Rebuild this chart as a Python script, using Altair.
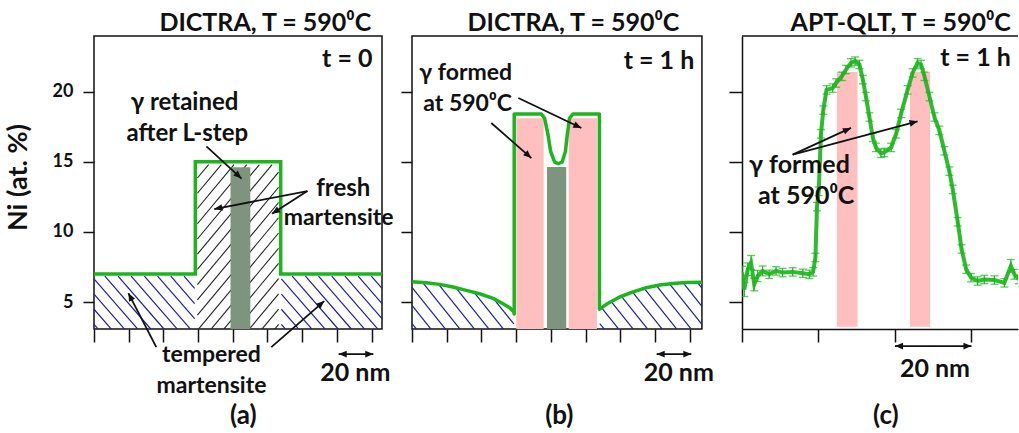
import math
import altair as alt
import numpy as np
import pandas as pd

FONT = "Lato"
GREEN = "#1db51d"
PINK = "#ffbfbf"
GRAY = "#7d957d"
BLUE = "#1e1eaa"
BLACK = "#111111"

# ---------------- data ----------------
Y_DOMAIN = [3.08, 23.96]
H = 293
TICKS_Y = [5, 10, 15, 20]

# panel (a): DICTRA t = 0
A_W, A_XMAX = 288, 166.0
A_TICKS = [0, 20, 40, 60, 80, 100, 120, 140, 160]
A_LINE_X = [0.0, 58.4, 58.4, 107.6, 107.6, 166.0]
A_LINE_Y = [7.0, 7.0, 15.0, 15.0, 7.0, 7.0]
A_GRAY = [78.7, 90.1, 14.6]          # x0, x1, top
A_FRESH = [59.6, 106.4, 14.8]        # fresh martensite region x0, x1, top
A_TEMP_L = [0.0, 58.0, 6.85]         # tempered martensite region (left)
A_TEMP_R = [108.0, 166.0, 6.85]      # tempered martensite region (right)

# panel (b): DICTRA t = 1 h
B_W, B_XMAX, B_FRAME = 300, 172.9, 167.1
B_LINE_X = [0.0, 8.2, 15.9, 23.6, 31.3, 39.0, 46.7, 52.5, 56.3, 58.6, 58.9, 58.9,
            74.5, 76.4, 78.4, 79.9, 82.2, 84.2, 86.5, 88.4, 89.5, 90.8, 92.8, 108.0,
            108.0, 112.0, 119.7, 127.4, 135.0, 142.7, 150.4, 158.1, 167.1]
B_LINE_Y = [6.44, 6.37, 6.26, 6.07, 5.83, 5.59, 5.26, 4.88, 4.59, 4.31, 4.15, 18.41,
            18.41, 18.10, 16.92, 15.73, 14.97, 14.86, 14.97, 15.73, 16.92, 18.10, 18.41, 18.41,
            4.48, 4.84, 5.36, 5.73, 6.02, 6.21, 6.33, 6.40, 6.42]
B_PINK_X0 = [60.1, 90.3]
B_PINK_X1 = [75.9, 106.6]
B_PINK_TOP = 18.1
B_GRAY = [77.8, 88.9, 14.62]

# panel (c): APT-QLT t = 1 h
C_W, C_XMAX = 276, 72.16
C_TICKS = [0, 20, 40, 60]
C_X = [0.0, 0.6, 1.5, 2.35, 3.2, 4.1, 5.4, 7.1, 8.9, 10.6,
       13.25, 15.9, 17.6, 18.6, 19.2, 19.6, 20.05, 20.65, 21.25, 22.1,
       23.7, 24.6, 26.1, 27.2, 28.5, 29.6, 30.7, 31.6, 32.4, 33.3,
       34.2, 35.0, 36.3, 37.2, 39.0, 40.3, 41.6, 43.3, 44.6, 45.9,
       46.8, 47.7, 49.0, 50.3, 51.6, 52.9, 54.2, 55.1, 56.4, 57.4,
       58.6, 59.9, 61.6, 63.35, 66.0, 68.6, 70.3, 71.2, 72.4]
C_Y = [7.10, 5.89, 7.34, 7.82, 6.25, 6.86, 7.22, 6.98, 7.22, 7.10,
       7.15, 7.05, 6.98, 7.15, 8.18, 11.80, 12.89, 16.99, 18.68, 20.12,
       20.25, 20.61, 21.09, 21.57, 22.05, 22.17, 21.93, 20.85, 19.64, 18.19,
       16.74, 16.02, 15.60, 15.66, 16.02, 16.99, 18.44, 20.12, 21.33, 22.05,
       21.93, 21.09, 19.64, 18.19, 17.23, 15.78, 14.33, 13.03, 10.72, 8.78,
       7.34, 6.74, 6.50, 6.61, 6.57, 6.37, 7.58, 6.98, 6.61]
C_ERR = [0.45, 0.5, 0.45, 0.5, 0.45, 0.4, 0.35, 0.3, 0.3, 0.3,
         0.3, 0.3, 0.3, 0.3, 0.3, 0.3, 0.3, 0.3, 0.3, 0.3,
         0.3, 0.3, 0.3, 0.3, 0.3, 0.3, 0.3, 0.3, 0.3, 0.3,
         0.3, 0.3, 0.3, 0.3, 0.3, 0.3, 0.3, 0.3, 0.3, 0.3,
         0.3, 0.3, 0.3, 0.3, 0.3, 0.3, 0.3, 0.3, 0.3, 0.3,
         0.3, 0.3, 0.3, 0.3, 0.3, 0.3, 0.45, 0.35, 0.3]
C_PINK_X0 = [24.8, 43.9]
C_PINK_X1 = [30.2, 49.2]
C_PINK_TOP, C_PINK_BOT = 21.4, 3.24

# annotations: text, x, y, font size, align
A_TEXT = ["DICTRA, T = 590\u2070C", "t = 0", "\u03b3 retained", "after L-step", "fresh", "martensite",
          "tempered", "martensite", "20 nm", "(a)"]
A_TX = [159.8, 160.5, 52.2, 53.8, 143.7, 141.0, 67.7, 67.7, 150.6, 86.1]
A_TY = [24.89, 22.32, 19.15, 17.0, 13.05, 11.0, 1.22, -0.99, -0.06, -3.13]
A_TS = [25, 25, 24, 24, 24, 23, 23, 23, 25, 26]
A_TA = ["right", "right", "center", "center", "center", "center", "center", "center", "center", "center"]
A_ARROWS = [[64.8, 16.1, 85.0, 13.8], [123.0, 12.91, 69.3, 11.63], [123.0, 12.91, 102.6, 11.29],
            [35.9, 1.79, 19.8, 5.64], [102.2, 1.79, 132.7, 5.07]]
A_BAR = [141.0, 161.0, 1.29]

B_TEXT = ["DICTRA, T = 590\u2070C", "t = 1 h", "\u03b3 formed", "at 590\u2070C", "20 nm", "(b)"]
B_TX = [154.1, 162.7, 4.2, 6.5, 153.8, 84.9]
B_TY = [24.89, 22.18, 21.32, 19.11, -0.06, -3.13]
B_TS = [25, 25, 23, 23, 25, 26]
B_TA = ["right", "right", "left", "left", "center", "center"]
B_ARROWS = [[61.3, 19.54, 97.6, 17.40], [45.7, 17.76, 68.8, 15.26]]
B_BAR = [141.0, 161.0, 1.29]

C_TEXT = ["APT-QLT, T = 590\u2070C", "t = 1 h", "\u03b3 formed", "at 590\u2070C", "20 nm", "(c)"]
C_TX = [70.3, 70.3, 1.83, 4.18, 50.45, 37.6]
C_TY = [24.89, 22.39, 14.76, 12.55, 0.22, -3.13]
C_TS = [25, 25, 25, 25, 25, 26]
C_TA = ["right", "right", "left", "left", "center", "center"]
C_ARROWS = [[13.25, 15.51, 28.5, 17.41], [13.25, 15.51, 45.9, 17.88]]
C_BAR = [40.0, 60.0, 1.86]

KY = H / (Y_DOMAIN[1] - Y_DOMAIN[0])
KX_AB = A_W / A_XMAX
KX_C = C_W / C_XMAX

ARROW_PATH = "M0,0L0.42,1L-0.42,1Z"

PANELS = {
    "a": {"xmax": A_XMAX, "ticks": A_TICKS, "xdomain": False},
    "b": {"xmax": B_XMAX, "ticks": A_TICKS, "xdomain": False},
    "c": {"xmax": C_XMAX, "ticks": C_TICKS, "xdomain": True},
}


# ---------------- helpers ----------------
def xe(field, kind):
    p = PANELS[kind]
    ax = alt.Axis(values=p["ticks"], labels=False, tickSize=13, tickWidth=1.5, tickColor=BLACK,
                  domain=p["xdomain"], domainColor=BLACK, domainWidth=1.5, grid=False, title=None)
    return alt.X(field, type="quantitative",
                 scale=alt.Scale(domain=[0, p["xmax"]], nice=False, zero=False), axis=ax)


def ye(field, kind):
    if kind == "a":
        ax = alt.Axis(values=TICKS_Y, labelFont=FONT, labelFontSize=18, labelFontWeight="bold",
                      labelColor=BLACK, labelPadding=10, tickSize=11, tickWidth=1.5, tickColor=BLACK,
                      domain=False, grid=False, title="Ni (at. %)", titleFont=FONT, titleFontSize=27,
                      titleFontWeight="bold", titleColor=BLACK, titlePadding=20, titleY=141)
    elif kind == "b":
        ax = alt.Axis(values=TICKS_Y, labels=False, tickSize=11, tickWidth=1.5, tickColor=BLACK,
                      domain=False, grid=False, title=None)
    else:
        ax = alt.Axis(values=TICKS_Y, labels=False, tickSize=13, tickWidth=1.5, tickColor=BLACK,
                      domain=True, domainColor=BLACK, domainWidth=1.5, grid=False, title=None)
    return alt.Y(field, type="quantitative", scale=alt.Scale(domain=Y_DOMAIN, nice=False, zero=False),
                 axis=ax)


def hatch_segments(xa, xb, top_x, top_y, bottom, kind, spacing_px, slope, kx):
    xs = np.linspace(xa, xb, 900)
    tops = np.interp(xs, top_x, top_y)
    X = xs * kx
    Yt = tops * KY
    Yb = bottom * KY
    s = -slope if kind == "back" else slope
    cstep = spacing_px * slope
    cmin = np.min(Yb - s * X)
    cmax = np.max(Yt - s * X)
    rows = []
    for c in np.arange(cmin + cstep * 0.3, cmax, cstep):
        Yl = s * X + c
        idx = np.where((Yl >= Yb) & (Yl <= Yt))[0]
        if len(idx) < 2:
            continue
        i0, i1 = idx[0], idx[-1]
        rows.append({"x": xs[i0], "y": Yl[i0] / KY, "x2": xs[i1], "y2": Yl[i1] / KY})
    return rows


def arrow_layers(arrows, kx, kind, double=False):
    shafts, heads = [], []
    for x1, y1, x2, y2 in arrows:
        shafts.append({"x": x1, "y": y1, "x2": x2, "y2": y2})
        ends = [(x1, y1, x2, y2)]
        if double:
            ends.append((x2, y2, x1, y1))
        for a1, b1, a2, b2 in ends:
            dxp = (a2 - a1) * kx
            dyp = -(b2 - b1) * KY
            ang = math.degrees(math.atan2(dxp, -dyp)) % 360
            heads.append({"x": a2, "y": b2, "ang": ang})
    sh = alt.Chart(pd.DataFrame(shafts)).mark_rule(color=BLACK, strokeWidth=1.8).encode(
        x=xe("x", kind), y=ye("y", kind), x2="x2", y2="y2")
    hd = alt.Chart(pd.DataFrame(heads)).mark_point(
        shape=ARROW_PATH, filled=True, color=BLACK, opacity=1, size=260, strokeWidth=0).encode(
        x=xe("x", kind), y=ye("y", kind), angle=alt.Angle("ang:Q", scale=None))
    return [sh, hd]


def text_layers(texts, xs, ys, sizes, aligns, kind):
    df = pd.DataFrame({"t": texts, "x": xs, "y": ys, "fs": sizes, "al": aligns})
    out = []
    for al in ["left", "center", "right"]:
        sub = df[df["al"] == al]
        if len(sub) == 0:
            continue
        out.append(alt.Chart(sub).mark_text(align=al, baseline="middle", font=FONT, fontWeight="bold",
                                            color=BLACK).encode(
            x=xe("x", kind), y=ye("y", kind), text="t:N", size=alt.Size("fs:Q", scale=None)))
    return out


def rect_layer(x0s, x1s, tops, bots, color, kind):
    df = pd.DataFrame({"x": x0s, "x2": x1s, "y": bots, "y2": tops})
    return alt.Chart(df).mark_rect(color=color, opacity=1).encode(
        x=xe("x", kind), x2="x2", y=ye("y", kind), y2="y2")


def frame_layer(xmax, kind):
    df = pd.DataFrame({"x": [0.0], "x2": [xmax], "y": [Y_DOMAIN[0]], "y2": [Y_DOMAIN[1]]})
    return alt.Chart(df).mark_rect(filled=False, stroke=BLACK, strokeWidth=1.5).encode(
        x=xe("x", kind), x2="x2", y=ye("y", kind), y2="y2")


def seg_layer(rows, color, width, kind):
    return alt.Chart(pd.DataFrame(rows)).mark_rule(color=color, strokeWidth=width).encode(
        x=xe("x", kind), y=ye("y", kind), x2="x2", y2="y2")


BOT = Y_DOMAIN[0]

# ---------------- panel (a) ----------------
a_layers = [frame_layer(A_XMAX, "a")]
hb = []
for reg in [A_TEMP_L, A_TEMP_R]:
    hb += hatch_segments(reg[0], reg[1], [reg[0], reg[1]], [reg[2], reg[2]], BOT, "back", 13.2, 1.15, KX_AB)
a_layers.append(seg_layer(hb, BLUE, 1.2, "a"))
hf = hatch_segments(A_FRESH[0], A_FRESH[1], [A_FRESH[0], A_FRESH[1]], [A_FRESH[2], A_FRESH[2]], BOT,
                    "fwd", 12.7, 1.2, KX_AB)
a_layers.append(seg_layer(hf, "#222222", 1.1, "a"))
a_layers.append(rect_layer([A_GRAY[0]], [A_GRAY[1]], [A_GRAY[2]], [BOT], GRAY, "a"))
a_layers.append(alt.Chart(pd.DataFrame({"x": A_LINE_X, "y": A_LINE_Y, "o": list(range(len(A_LINE_X)))}))
                .mark_line(color=GREEN, strokeWidth=3.5, strokeJoin="miter").encode(
    x=xe("x", "a"), y=ye("y", "a"), order="o:Q"))
a_layers += arrow_layers(A_ARROWS, KX_AB, "a")
a_layers += arrow_layers([[A_BAR[0], A_BAR[2], A_BAR[1], A_BAR[2]]], KX_AB, "a", double=True)
a_layers += text_layers(A_TEXT, A_TX, A_TY, A_TS, A_TA, "a")
panel_a = alt.layer(*a_layers).properties(width=A_W, height=H)

# ---------------- panel (b) ----------------
b_layers = [frame_layer(B_FRAME, "b")]
hbb = hatch_segments(0.0, 58.7, B_LINE_X[:11], B_LINE_Y[:11], BOT, "back", 14.5, 1.25, KX_AB)
hbb += hatch_segments(108.2, B_FRAME, B_LINE_X[24:], B_LINE_Y[24:], BOT, "back", 14.5, 1.25, KX_AB)
b_layers.append(seg_layer(hbb, BLUE, 1.2, "b"))
b_layers.append(rect_layer(B_PINK_X0, B_PINK_X1, [B_PINK_TOP] * 2, [BOT] * 2, PINK, "b"))
b_layers.append(rect_layer([B_GRAY[0]], [B_GRAY[1]], [B_GRAY[2]], [BOT], GRAY, "b"))
b_layers.append(alt.Chart(pd.DataFrame({"x": B_LINE_X, "y": B_LINE_Y, "o": list(range(len(B_LINE_X)))}))
                .mark_line(color=GREEN, strokeWidth=3.5, strokeJoin="round").encode(
    x=xe("x", "b"), y=ye("y", "b"), order="o:Q"))
b_layers += arrow_layers(B_ARROWS, KX_AB, "b")
b_layers += arrow_layers([[B_BAR[0], B_BAR[2], B_BAR[1], B_BAR[2]]], KX_AB, "b", double=True)
b_layers += text_layers(B_TEXT, B_TX, B_TY, B_TS, B_TA, "b")
panel_b = alt.layer(*b_layers).properties(width=B_W, height=H)

# ---------------- panel (c) ----------------
c_layers = []
c_layers.append(alt.Chart(pd.DataFrame({"x": [0.0], "x2": [C_XMAX], "y": [Y_DOMAIN[1]]}))
                .mark_rule(color=BLACK, strokeWidth=1.5).encode(
    x=xe("x", "c"), x2="x2", y=ye("y", "c")))
c_layers.append(rect_layer(C_PINK_X0, C_PINK_X1, [C_PINK_TOP] * 2, [C_PINK_BOT] * 2, PINK, "c"))
cdf = pd.DataFrame({"x": C_X, "y": C_Y, "e": C_ERR})
cdf["lo"] = cdf["y"] - cdf["e"]
cdf["hi"] = cdf["y"] + cdf["e"]
c_layers.append(alt.Chart(cdf).mark_line(color=GREEN, strokeWidth=4, opacity=0.92, clip=True).encode(
    x=xe("x", "c"), y=ye("y", "c")))
c_layers.append(alt.Chart(cdf).mark_rule(color=GREEN, strokeWidth=1.2, clip=True).encode(
    x=xe("x", "c"), y=ye("lo", "c"), y2="hi"))
for fld in ["lo", "hi"]:
    c_layers.append(alt.Chart(cdf).mark_tick(color=GREEN, orient="horizontal", size=8, thickness=1.3,
                                             clip=True).encode(
        x=xe("x", "c"), y=ye(fld, "c")))
c_layers += arrow_layers(C_ARROWS, KX_C, "c")
c_layers += arrow_layers([[C_BAR[0], C_BAR[2], C_BAR[1], C_BAR[2]]], KX_C, "c", double=True)
c_layers += text_layers(C_TEXT, C_TX, C_TY, C_TS, C_TA, "c")
panel_c = alt.layer(*c_layers).properties(width=C_W, height=H)

chart = alt.hconcat(panel_a, panel_b, panel_c, spacing=30, bounds="flush").resolve_scale(
    x="independent", y="independent").configure_view(strokeWidth=0).properties(
    padding={"left": 4, "top": 10, "right": 0, "bottom": 1}, background="white")

chart.save("out.html", embed_options={"renderer": "svg", "actions": False})
